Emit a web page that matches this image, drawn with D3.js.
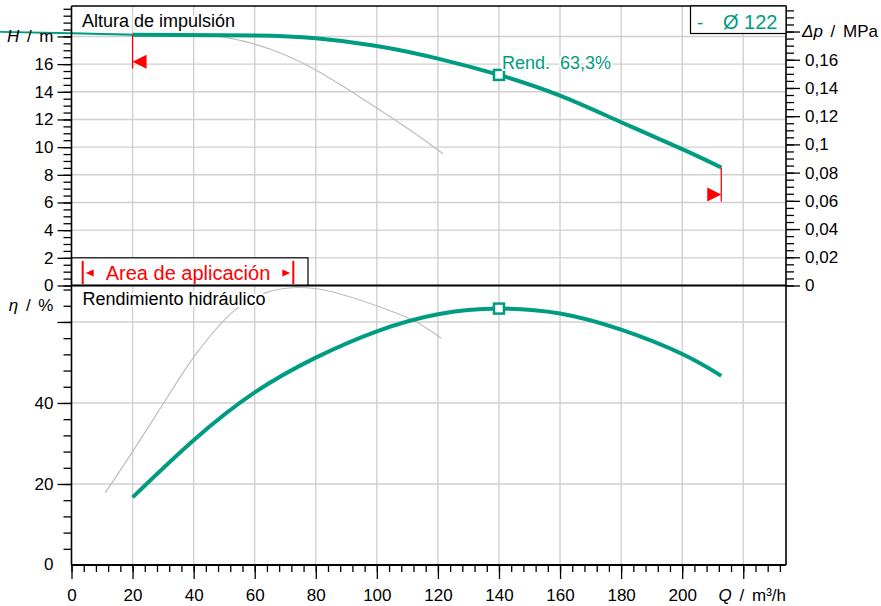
<!DOCTYPE html>
<html>
<head>
<meta charset="utf-8">
<script src="https://cdn.jsdelivr.net/npm/d3@7"></script>
<style>
body{margin:0;background:#fff;}
svg text{font-family:"Liberation Sans",Arial,sans-serif;}
</style>
</head>
<body>
<svg id="chart" width="881" height="606"></svg>
<script>
// tick labels
var qTicks = [0,20,40,60,80,100,120,140,160,180,200,220];
var hTicks = [0,2,4,6,8,10,12,14,16,18];
var dpTicks = [0,0.02,0.04,0.06,0.08,0.1,0.12,0.14,0.16,0.18];
var etaTicks = [0,20,40,60];

// pump curve, diameter 122
var headLowQ = [-23.4,0,20];
var headLowH = [18.33,18.23,18.13];
var headQ = [20,35.5,60,80,100,120,140,160,180,200,212.8];
var headH = [18.13,18.1,18.06,17.87,17.31,16.4,15.22,13.72,11.8,9.86,8.53];
var effQ = [20,40,60,80,100,120,140,160,180,200,212.8];
var effEta = [16.7,30.8,42.6,51.2,57.7,61.9,63.3,62.1,58.1,52.1,46.7];

// grey reference curves
var refHeadQ = [0,20,40,46,50,60,70,80,90,100,110,120,121.2];
var refHeadH = [18.23,18.15,18.1,18.05,17.95,17.45,16.66,15.58,14.25,12.82,11.36,9.8,9.57];
var refEffQ = [11,20,32.9,41,53,64,73.8,85.6,99.9,111.8,121.1];
var refEffEta = [17.8,28,43.2,52.3,62.6,67.3,68.5,67.4,64.0,60.4,56];

// best efficiency point and application range
var bestQ = 140, bestH = 15.22, bestEta = 63.3;
var rangeQ = [20, 212.8];

var teal = "#009c82", red = "#ff0000", grid = "#d0d0d0";
var svg = d3.select("#chart");

var top_ = 6, mid = 285.5, bottom = 565, left = 71.5, right = 786;
var x = d3.scaleLinear().domain([0,234]).range([left,right]);
var yH = d3.scaleLinear().domain([0,20.2]).range([mid,top_]);
var yP = d3.scaleLinear().domain([0,20.2*0.00980665]).range([mid,top_]);
var yE = d3.scaleLinear().domain([0,69]).range([bottom,mid]);

var comma = d3.formatLocale({decimal:",",thousands:".",grouping:[3],currency:["","€"]}).format("~g");

function zip(a,b){ return a.map(function(v,i){ return [v,b[i]]; }); }

// gridlines
var g = svg.append("g").attr("stroke",grid).attr("stroke-width",1.4);
qTicks.slice(1).forEach(function(q){
    g.append("line").attr("x1",x(q)).attr("x2",x(q)).attr("y1",top_).attr("y2",bottom);
});
hTicks.slice(1).forEach(function(h){
    g.append("line").attr("x1",left).attr("x2",right).attr("y1",yH(h)).attr("y2",yH(h));
});
etaTicks.slice(1).forEach(function(e){
    g.append("line").attr("x1",left).attr("x2",right).attr("y1",yE(e)).attr("y2",yE(e));
});

// application range box
var boxW = 236.5;
svg.append("rect").attr("x",left).attr("y",yH(2)).attr("width",boxW).attr("height",mid-yH(2))
    .attr("fill","#fff").attr("stroke","#000").attr("stroke-width",1.2);
var bl = left+11.2, br = left+boxW-14.7, by1 = yH(2)+3, by2 = mid-1.5, bc = (by1+by2)/2+0.5;
[bl,br].forEach(function(bx){
    svg.append("line").attr("x1",bx).attr("x2",bx).attr("y1",by1).attr("y2",by2)
        .attr("stroke",red).attr("stroke-width",2);
});
svg.append("path").attr("fill",red)
    .attr("d","M"+(bl+3)+","+bc+"L"+(bl+11)+","+(bc-3.5)+"L"+(bl+11)+","+(bc+3.5)+"Z");
svg.append("path").attr("fill",red)
    .attr("d","M"+(br-3)+","+bc+"L"+(br-11)+","+(bc-3.5)+"L"+(br-11)+","+(bc+3.5)+"Z");
svg.append("text").attr("x",(bl+br)/2).attr("y",280).attr("text-anchor","middle")
    .attr("font-size",20).attr("fill",red).text("Area de aplicación");

// curves
var lineH = d3.line().x(function(d){return x(d[0]);}).y(function(d){return yH(d[1]);}).curve(d3.curveNatural);
var lineE = d3.line().x(function(d){return x(d[0]);}).y(function(d){return yE(d[1]);}).curve(d3.curveNatural);

svg.append("path").attr("d",lineH(zip(refHeadQ,refHeadH))).attr("fill","none").attr("stroke","#bdbdbd").attr("stroke-width",1.2);
svg.append("path").attr("d",lineE(zip(refEffQ,refEffEta))).attr("fill","none").attr("stroke","#bdbdbd").attr("stroke-width",1.2);

svg.append("path").attr("d",lineH(zip(headLowQ,headLowH))).attr("fill","none").attr("stroke",teal).attr("stroke-width",2);
svg.append("path").attr("d",lineH(zip(headQ,headH))).attr("fill","none").attr("stroke",teal).attr("stroke-width",4);
svg.append("path").attr("d",lineE(zip(effQ,effEta))).attr("fill","none").attr("stroke",teal).attr("stroke-width",4);

// frame
var f = svg.append("g").attr("stroke","#000").attr("stroke-width",1.6);
f.append("line").attr("x1",left).attr("x2",right).attr("y1",top_).attr("y2",top_);
f.append("line").attr("x1",left).attr("x2",right).attr("y1",mid).attr("y2",mid).attr("stroke-width",2);
f.append("line").attr("x1",left).attr("x2",right).attr("y1",bottom).attr("y2",bottom).attr("stroke-width",2);
f.append("line").attr("x1",left).attr("x2",left).attr("y1",top_).attr("y2",bottom);
f.append("line").attr("x1",right).attr("x2",right).attr("y1",top_).attr("y2",bottom);

// axes
function styleAxis(sel){
    sel.select(".domain").remove();
    sel.selectAll(".tick line").attr("stroke","#000").attr("stroke-width",1.3);
    sel.selectAll(".tick text").attr("fill","#000").attr("font-size",17)
        .attr("font-family","'Liberation Sans',Arial,sans-serif");
}
svg.append("g").attr("transform","translate(0,"+bottom+")")
    .call(d3.axisBottom(x).tickValues(d3.range(0,234,4)).tickSize(7).tickFormat("")).call(styleAxis);
svg.append("g").attr("transform","translate(0,"+bottom+")")
    .call(d3.axisBottom(x).tickValues(qTicks).tickSize(14).tickPadding(10)
        .tickFormat(function(q){ return q===220 ? "" : q; })).call(styleAxis);

svg.append("g").attr("transform","translate("+left+",0)")
    .call(d3.axisLeft(yH).tickValues(d3.range(0,20.01,0.5)).tickSize(8).tickFormat("")).call(styleAxis);
svg.append("g").attr("transform","translate("+left+",0)")
    .call(d3.axisLeft(yH).tickValues(hTicks).tickSize(14).tickPadding(4)
        .tickFormat(function(h){ return h===18 ? "" : h; })).call(styleAxis);
svg.append("g").attr("transform","translate("+left+",0)")
    .call(d3.axisLeft(yE).tickValues(d3.range(4,69,4)).tickSize(8).tickFormat("")).call(styleAxis);
svg.append("g").attr("transform","translate("+left+",0)")
    .call(d3.axisLeft(yE).tickValues(etaTicks.slice(1)).tickSize(14).tickPadding(4)
        .tickFormat(function(e){ return e===60 ? "" : e; })).call(styleAxis);
svg.append("text").attr("x",left-18).attr("y",bottom).attr("dy","0.32em").attr("text-anchor","end")
    .attr("font-size",17).text("0");

svg.append("g").attr("transform","translate("+right+",0)")
    .call(d3.axisRight(yP).tickValues(d3.range(0,0.198,0.005)).tickSize(8).tickFormat("")).call(styleAxis);
svg.append("g").attr("transform","translate("+right+",0)")
    .call(d3.axisRight(yP).tickValues(dpTicks).tickSize(14).tickPadding(5)
        .tickFormat(function(p){ return p===0.18 ? "" : comma(p); })).call(styleAxis);

// axis titles
function title(xp, yp, anchor, sym, unit){
    var t = svg.append("text").attr("x",xp).attr("y",yp).attr("dy","0.32em")
        .attr("text-anchor",anchor).attr("font-size",17).attr("word-spacing",3);
    t.append("tspan").attr("font-style","italic").text(sym);
    t.append("tspan").text(" / " + unit);
    return t;
}
title(left-18, yH(18), "end", "H", "m");
title(left-18, yE(64), "end", "η", "%");
title(right+16, yP(0.18), "start", "Δp", "MPa");
title(right, bottom+31, "end", "Q", "m³/h");

// panel titles
function halo(sel){ sel.attr("stroke","#fff").attr("stroke-width",4).attr("paint-order","stroke").attr("stroke-linejoin","round"); }
svg.append("text").attr("x",82).attr("y",26.5).attr("font-size",18).text("Altura de impulsión").call(halo);
svg.append("text").attr("x",82.5).attr("y",305).attr("font-size",18).text("Rendimiento hidráulico").call(halo);

// application range markers
function marker(q, h, dir){
    var px = x(q), py = yH(h), tip = py+27;
    svg.append("line").attr("x1",px).attr("x2",px).attr("y1",py).attr("y2",tip+7)
        .attr("stroke",red).attr("stroke-width",1.3);
    svg.append("path").attr("fill",red)
        .attr("d","M"+px+","+tip+"L"+(px+dir*14)+","+(tip-7)+"L"+(px+dir*14)+","+(tip+7)+"Z");
}
marker(rangeQ[0], headH[0], 1);
marker(rangeQ[1], headH[headH.length-1], -1);

// best efficiency point
[yH(bestH), yE(bestEta)].forEach(function(cy){
    svg.append("rect").attr("x",x(bestQ)-5).attr("y",cy-5).attr("width",10).attr("height",10)
        .attr("fill","#fff").attr("stroke",teal).attr("stroke-width",2.5);
});
svg.append("text").attr("x",x(bestQ)+3).attr("y",yH(bestH)-6).attr("font-size",18).attr("fill",teal)
    .text("Rend.\u00a0\u00a0" + comma(bestEta) + "%").call(halo);

// legend
svg.append("rect").attr("x",690.5).attr("y",top_).attr("width",right-690.5).attr("height",27.5)
    .attr("fill","#fff").attr("stroke","#000").attr("stroke-width",1.2);
svg.append("text").attr("x",697).attr("y",28.5).attr("font-size",19).attr("fill",teal).text("-");
svg.append("text").attr("x",723).attr("y",28.5).attr("font-size",20).attr("fill",teal).text("Ø 122");
</script>
</body>
</html>
